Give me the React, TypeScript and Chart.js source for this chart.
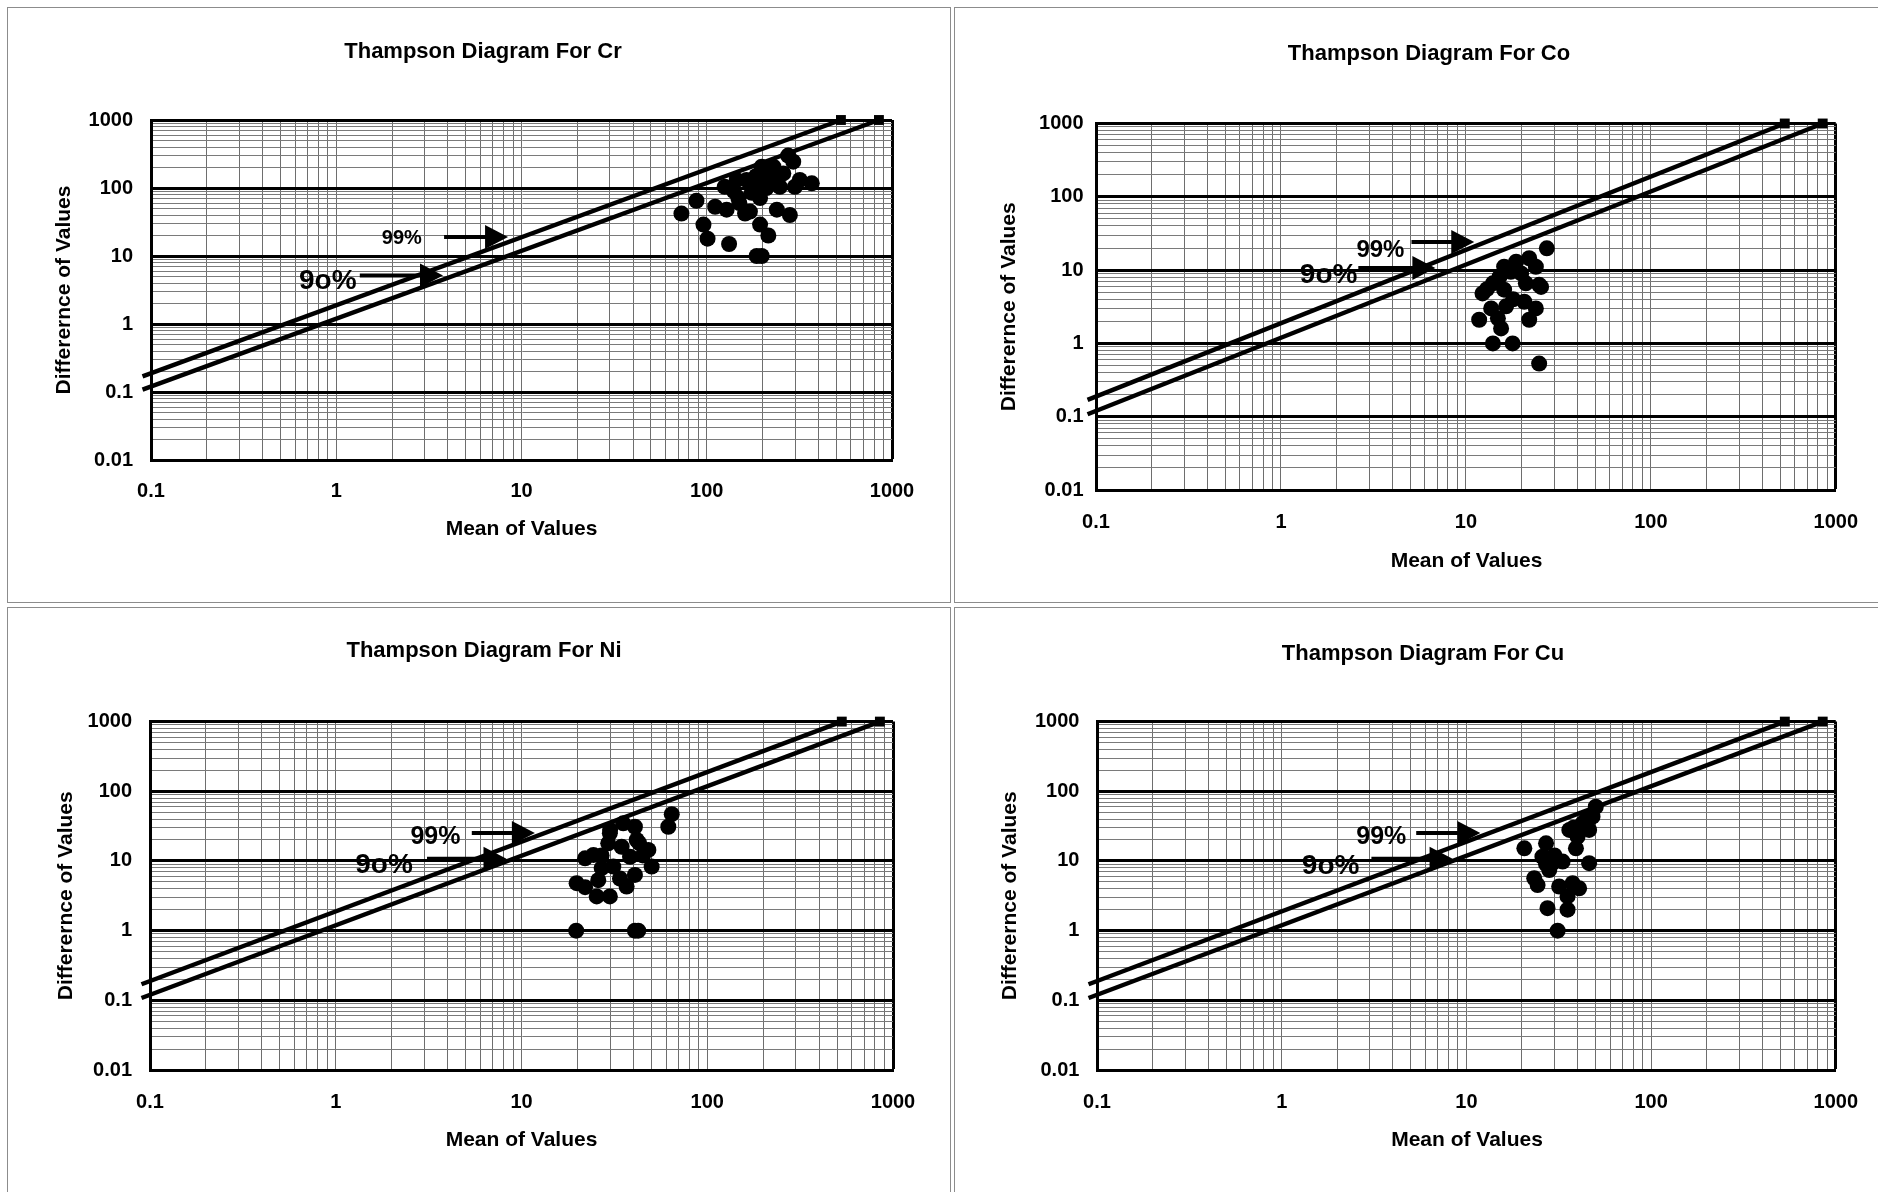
import React, { useEffect, useRef } from 'react';
import { Chart, registerables } from 'chart.js';

Chart.register(...registerables);

const FONT = "'Liberation Sans', Arial, Helvetica, sans-serif";

// ---- axis ticks ----
const xMajorTicks = [0.1, 1, 10, 100, 1000];
const yMajorTicks = [0.01, 0.1, 1, 10, 100, 1000];
const minorSteps = [2, 3, 4, 5, 6, 7, 8, 9];

// ---- control lines (two end points each) ----
const line99 = [
  { x: 0.09, y: 0.17 },
  { x: 530, y: 1000 },
];
const line90 = [
  { x: 0.09, y: 0.108 },
  { x: 850, y: 1000 },
];

// ---- Cr ----
const crMean = [73, 88, 96, 101, 132, 186, 198, 194, 215, 111, 128, 161, 171, 239, 281, 125, 148, 194, 198, 275, 293, 248, 299, 369, 318, 229, 164, 186, 145, 259, 211, 175, 210, 230, 150, 140, 185];
const crDiff = [42, 65, 29, 18, 15, 10, 10, 29, 20, 53, 48, 42, 45, 48, 40, 104, 71, 71, 206, 300, 244, 104, 104, 117, 131, 206, 131, 111, 131, 164, 147, 85, 100, 130, 60, 90, 150];

// ---- Co ----
const coMean = [27.4, 24.9, 14.0, 17.9, 11.8, 12.3, 13.7, 15.5, 14.9, 14.0, 16.1, 18.7, 22.0, 23.9, 25.5, 21.1, 19.9, 16.5, 20.7, 23.9, 22.0, 16.1, 15.2, 17.5, 24.9, 13.0, 18.0];
const coDiff = [19.8, 0.53, 1.0, 1.0, 2.1, 4.8, 3.0, 1.6, 2.2, 6.6, 11.1, 13.0, 14.5, 11.1, 5.9, 6.6, 9.0, 3.2, 3.7, 3.0, 2.1, 5.4, 8.1, 9.5, 6.3, 5.5, 4.0];

// ---- Ni ----
const niMean = [19.7, 40.8, 42.5, 64.4, 61.7, 19.8, 22.0, 25.4, 29.9, 22.0, 24.4, 25.9, 27.0, 33.9, 36.8, 40.8, 50.2, 48.2, 40.8, 35.3, 29.9, 29.3, 34.6, 38.4, 31.2, 41.7, 30, 27, 45, 43];
const niDiff = [1.0, 1.0, 1.0, 47, 31, 4.8, 4.2, 3.1, 3.1, 10.9, 12.2, 5.3, 7.9, 5.6, 4.3, 6.3, 8.3, 14.4, 31.0, 34.7, 25.0, 17.9, 16.0, 11.5, 8.3, 20.0, 28, 12, 12, 18];

// ---- Cu ----
const cuMean = [31.2, 27.5, 35.3, 23.3, 24.3, 20.6, 27.0, 25.8, 29.3, 33.2, 28.1, 31.8, 37.6, 40.8, 35.3, 46.2, 39.2, 36.1, 42.5, 46.2, 48.2, 50.2, 40.0, 30, 27, 38, 44];
const cuDiff = [1.0, 2.1, 2.0, 5.65, 4.5, 15.2, 17.9, 11.5, 9.3, 9.8, 7.4, 4.3, 4.8, 4.05, 3.1, 9.3, 15.2, 27.9, 34.7, 27.9, 43.2, 60, 22.3, 12, 9, 30, 38];

function buildTicks(majors: number[]) {
  const out: number[] = [];
  majors.forEach((m, i) => {
    out.push(m);
    if (i < majors.length - 1) minorSteps.forEach((s) => out.push(parseFloat((m * s).toPrecision(4))));
  });
  return out;
}
function isMajor(v: number, majors: number[]) {
  return majors.some((m) => Math.abs(m - v) / m < 1e-6);
}

type Ann = { text: string; size: number; textX: number; textY: number; tailX: number; tipX: number; y: number };
type Cfg = {
  key: string;
  title: string;
  left: number;
  top: number;
  boxW: number;
  boxH: number;
  w: number;
  h: number;
  plot: { l: number; r: number; t: number; b: number };
  titleX: number;
  titleY: number;
  yTitleX: number;
  xTitleY: number;
  yTickPad: number;
  xTickPad: number;
  mean: number[];
  diff: number[];
  anns: Ann[];
};

const panels: Cfg[] = [
  {
    key: 'cr', title: 'Thampson Diagram For Cr', left: 8, top: 8, boxW: 942, boxH: 594, w: 942, h: 594,
    plot: { l: 143, r: 884, t: 112, b: 452 }, titleX: 475, titleY: 44, yTitleX: 56, xTitleY: 521,
    yTickPad: 18, xTickPad: 19, mean: crMean, diff: crDiff,
    anns: [
      { text: '99%', size: 20, textX: 2.26, textY: 17.8, tailX: 3.82, tipX: 8.46, y: 19.0 },
      { text: '9o%', size: 28, textX: 0.9, textY: 4.29, tailX: 1.34, tipX: 3.77, y: 5.17 },
    ],
  },
  {
    key: 'co', title: 'Thampson Diagram For Co', left: 955, top: 8, boxW: 940, boxH: 594, w: 923, h: 594,
    plot: { l: 141, r: 882, t: 115.5, b: 482 }, titleX: 474, titleY: 46, yTitleX: 54, xTitleY: 553,
    yTickPad: 12.5, xTickPad: 20, mean: coMean, diff: coDiff,
    anns: [
      { text: '99%', size: 24, textX: 3.45, textY: 18.8, tailX: 5.08, tipX: 11.1, y: 24.2 },
      { text: '9o%', size: 28, textX: 1.81, textY: 8.58, tailX: 2.62, tipX: 6.84, y: 10.7 },
    ],
  },
  {
    key: 'ni', title: 'Thampson Diagram For Ni', left: 8, top: 608, boxW: 942, boxH: 600, w: 942, h: 584,
    plot: { l: 142, r: 885, t: 113.6, b: 462 }, titleX: 476, titleY: 43, yTitleX: 58, xTitleY: 532,
    yTickPad: 18, xTickPad: 20, mean: niMean, diff: niDiff,
    anns: [
      { text: '99%', size: 25, textX: 3.44, textY: 22.3, tailX: 5.4, tipX: 11.8, y: 25.2 },
      { text: '9o%', size: 28, textX: 1.82, textY: 8.65, tailX: 3.1, tipX: 8.3, y: 10.8 },
    ],
  },
  {
    key: 'cu', title: 'Thampson Diagram For Cu', left: 955, top: 608, boxW: 940, boxH: 600, w: 923, h: 584,
    plot: { l: 142, r: 882, t: 113.6, b: 462 }, titleX: 468, titleY: 45.6, yTitleX: 55.6, xTitleY: 532.6,
    yTickPad: 17.6, xTickPad: 20, mean: cuMean, diff: cuDiff,
    anns: [
      { text: '99%', size: 25, textX: 3.46, textY: 22.3, tailX: 5.35, tipX: 11.9, y: 25.2 },
      { text: '9o%', size: 28, textX: 1.84, textY: 8.48, tailX: 3.06, tipX: 8.42, y: 10.8 },
    ],
  },
];

function fmtTick(v: number) {
  return v >= 1 ? String(Math.round(v)) : String(parseFloat(v.toPrecision(2)));
}

function Thompson({ cfg }: { cfg: Cfg }) {
  const ref = useRef<HTMLCanvasElement>(null);
  useEffect(() => {
    if (!ref.current) return;
    const xTicks = buildTicks(xMajorTicks);
    const yTicks = buildTicks(yMajorTicks);
    const points = cfg.mean.map((m, i) => ({ x: m, y: cfg.diff[i] }));

    const textPlugin = {
      id: 'texts',
      afterDraw(chart: any) {
        const ctx = chart.ctx as CanvasRenderingContext2D;
        const xs = chart.scales.x;
        const ys = chart.scales.y;
        ctx.save();
        ctx.fillStyle = '#000';
        ctx.strokeStyle = '#000';
        ctx.textAlign = 'center';
        ctx.textBaseline = 'middle';
        ctx.font = `bold 22px ${FONT}`;
        ctx.fillText(cfg.title, cfg.titleX, cfg.titleY);
        ctx.font = `bold 21px ${FONT}`;
        ctx.fillText('Mean of Values', (cfg.plot.l + cfg.plot.r) / 2, cfg.xTitleY);
        ctx.save();
        ctx.translate(cfg.yTitleX, (cfg.plot.t + cfg.plot.b) / 2);
        ctx.rotate(-Math.PI / 2);
        ctx.fillText('Differernce of Values', 0, 0);
        ctx.restore();
        cfg.anns.forEach((a) => {
          const tip = xs.getPixelForValue(a.tipX);
          const tail = xs.getPixelForValue(a.tailX);
          const y = ys.getPixelForValue(a.y);
          const headLen = 23;
          const headHalf = 12;
          ctx.lineWidth = 4;
          ctx.beginPath();
          ctx.moveTo(tail, y);
          ctx.lineTo(tip - headLen + 2, y);
          ctx.stroke();
          ctx.beginPath();
          ctx.moveTo(tip, y);
          ctx.lineTo(tip - headLen, y - headHalf);
          ctx.lineTo(tip - headLen, y + headHalf);
          ctx.closePath();
          ctx.fill();
          ctx.font = `bold ${a.size}px ${FONT}`;
          ctx.fillText(a.text, xs.getPixelForValue(a.textX), ys.getPixelForValue(a.textY));
        });
        ctx.restore();
      },
    };

    const tickFont = { family: FONT, size: 20, weight: 'bold' as const };
    const endRadius = (n: number) => (c: any) => (c.dataIndex === n - 1 ? 7 : 0);

    const chart = new Chart(ref.current, {
      type: 'scatter',
      data: {
        datasets: [
          {
            label: '99%',
            data: line99,
            showLine: true,
            borderColor: '#000',
            backgroundColor: '#000',
            borderWidth: 4.5,
            pointRadius: endRadius(line99.length),
            pointStyle: 'rect',
            pointBorderWidth: 0,
            clip: false,
          } as any,
          {
            label: '90%',
            data: line90,
            showLine: true,
            borderColor: '#000',
            backgroundColor: '#000',
            borderWidth: 4.5,
            pointRadius: endRadius(line90.length),
            pointStyle: 'rect',
            pointBorderWidth: 0,
            clip: false,
          } as any,
          {
            label: 'samples',
            data: points,
            showLine: false,
            pointRadius: 8,
            pointBackgroundColor: '#000',
            pointBorderColor: '#000',
            pointBorderWidth: 0,
          } as any,
        ],
      },
      options: {
        responsive: false,
        animation: false,
        devicePixelRatio: 1,
        events: [],
        layout: { padding: { left: 0, top: cfg.plot.t, right: cfg.w - cfg.plot.r, bottom: 0 } },
        plugins: { legend: { display: false }, tooltip: { enabled: false }, title: { display: false } },
        scales: {
          x: {
            type: 'logarithmic',
            position: 'bottom',
            min: 0.1,
            max: 1000,
            afterBuildTicks: (s: any) => {
              s.ticks = xTicks.map((v) => ({ value: v }));
            },
            afterFit: (s: any) => {
              s.height = cfg.h - cfg.plot.b;
            },
            ticks: {
              autoSkip: false,
              maxRotation: 0,
              minRotation: 0,
              padding: cfg.xTickPad,
              color: '#000',
              font: tickFont,
              callback: (v: any) => (isMajor(Number(v), xMajorTicks) ? fmtTick(Number(v)) : ''),
            },
            grid: {
              drawTicks: false,
              color: (c: any) => (c.tick && Math.abs(c.tick.value - 1000) < 1e-6 ? '#000' : '#6e6e6e'),
              lineWidth: (c: any) => (c.tick && Math.abs(c.tick.value - 1000) < 1e-6 ? 3 : 1),
            },
            border: { display: true, color: '#000', width: 3 },
          } as any,
          y: {
            type: 'logarithmic',
            position: 'left',
            min: 0.01,
            max: 1000,
            afterBuildTicks: (s: any) => {
              s.ticks = yTicks.map((v) => ({ value: v }));
            },
            afterFit: (s: any) => {
              s.width = cfg.plot.l;
            },
            ticks: {
              autoSkip: false,
              padding: cfg.yTickPad,
              color: '#000',
              font: tickFont,
              callback: (v: any) => (isMajor(Number(v), yMajorTicks) ? fmtTick(Number(v)) : ''),
            },
            grid: {
              drawTicks: false,
              color: (c: any) => (c.tick && isMajor(c.tick.value, yMajorTicks) ? '#000' : '#7a7a7a'),
              lineWidth: (c: any) => (c.tick && isMajor(c.tick.value, yMajorTicks) ? 3 : 1),
            },
            border: { display: true, color: '#000', width: 3 },
          } as any,
        },
      },
      plugins: [textPlugin],
    });
    return () => chart.destroy();
  }, [cfg]);
  return <canvas ref={ref} width={cfg.w} height={cfg.h} style={{ display: 'block', width: cfg.w, height: cfg.h }} />;
}

export default function App() {
  return (
    <div style={{ position: 'absolute', left: 0, top: 0, width: 1878, height: 1192, overflow: 'hidden', background: '#fff' }}>
      {panels.map((p) => (
        <div
          key={p.key}
          style={{
            position: 'absolute',
            left: p.left - 1,
            top: p.top - 1,
            width: p.boxW,
            height: p.boxH,
            border: '1px solid #8c8c8c',
            overflow: 'hidden',
            background: '#fff',
          }}
        >
          <Thompson cfg={p} />
        </div>
      ))}
    </div>
  );
}
